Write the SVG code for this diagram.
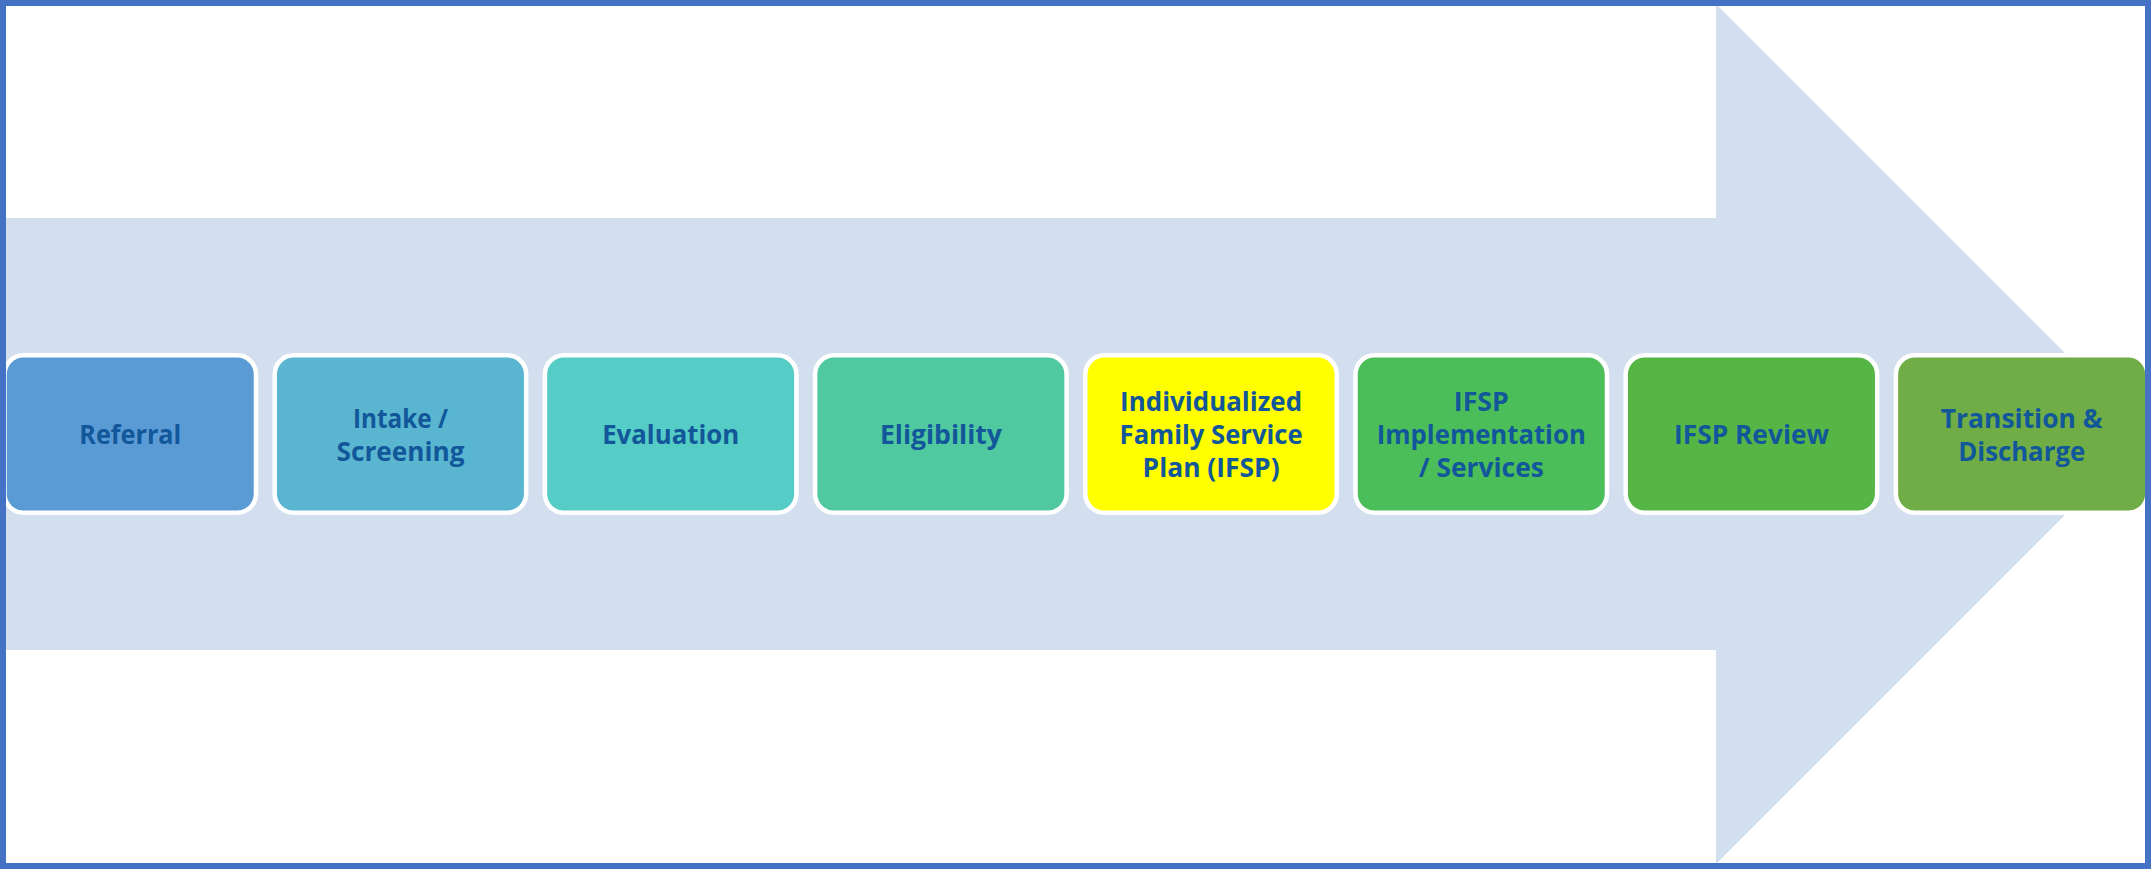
<svg xmlns="http://www.w3.org/2000/svg" width="2151" height="869" viewBox="0 0 2151 869">
<style>
.box{stroke:#FFFFFF;stroke-width:4.5}
.lbl{font-family:"Open Sans","Noto Sans","Liberation Sans",sans-serif;font-weight:bold;font-size:27px;fill:#11579A;text-anchor:middle}
</style>
<rect x="0" y="0" width="2151" height="869" fill="#FFFFFF"/>
<g id="arrow">
<polygon points="0,218 1716,218 1716,4 2146,434 1716,864 1716,650 0,650" fill="#D3DFEF"/>
</g>
<g id="connectors"></g>
<g id="n1"><rect class="box" x="4.5" y="355.3" width="251.5" height="157.5" rx="19" fill="#5B9BD5"/>
<text class="lbl" x="130.3" y="444" textLength="102" lengthAdjust="spacingAndGlyphs">Referral</text></g>
<g id="n2"><rect class="box" x="274.7" y="355.3" width="251.5" height="157.5" rx="19" fill="#5AB5D0"/>
<text class="lbl" x="400.5" y="427.5" textLength="95" lengthAdjust="spacingAndGlyphs">Intake /</text>
<text class="lbl" x="400.5" y="460.5" textLength="128" lengthAdjust="spacingAndGlyphs">Screening</text></g>
<g id="n3"><rect class="box" x="544.9" y="355.3" width="251.5" height="157.5" rx="19" fill="#55CCC5"/>
<text class="lbl" x="670.7" y="444" textLength="137" lengthAdjust="spacingAndGlyphs">Evaluation</text></g>
<g id="n4"><rect class="box" x="815.1" y="355.3" width="251.5" height="157.5" rx="19" fill="#50C8A0"/>
<text class="lbl" x="940.9" y="444" textLength="122" lengthAdjust="spacingAndGlyphs">Eligibility</text></g>
<g id="n5"><rect class="box" x="1085.3" y="355.3" width="251.5" height="157.5" rx="19" fill="#FFFF00"/>
<text class="lbl" x="1211.1" y="411" textLength="182" lengthAdjust="spacingAndGlyphs">Individualized</text>
<text class="lbl" x="1211.1" y="444" textLength="183" lengthAdjust="spacingAndGlyphs">Family Service</text>
<text class="lbl" x="1211.1" y="477" textLength="137" lengthAdjust="spacingAndGlyphs">Plan (IFSP)</text></g>
<g id="n6"><rect class="box" x="1355.5" y="355.3" width="251.5" height="157.5" rx="19" fill="#4BBE5A"/>
<text class="lbl" x="1481.3" y="411" textLength="55" lengthAdjust="spacingAndGlyphs">IFSP</text>
<text class="lbl" x="1481.3" y="444" textLength="209" lengthAdjust="spacingAndGlyphs">Implementation</text>
<text class="lbl" x="1481.3" y="477" textLength="125" lengthAdjust="spacingAndGlyphs">/ Services</text></g>
<g id="n7"><rect class="box" x="1625.7" y="355.3" width="251.5" height="157.5" rx="19" fill="#55B646"/>
<text class="lbl" x="1751.5" y="444" textLength="155" lengthAdjust="spacingAndGlyphs">IFSP Review</text></g>
<g id="n8"><rect class="box" x="1895.9" y="355.3" width="251.5" height="157.5" rx="19" fill="#70AD47"/>
<text class="lbl" x="2021.7" y="427.5" textLength="162" lengthAdjust="spacingAndGlyphs">Transition &amp;</text>
<text class="lbl" x="2021.7" y="460.5" textLength="127" lengthAdjust="spacingAndGlyphs">Discharge</text></g>
<rect x="3" y="3" width="2145" height="863" fill="none" stroke="#4472C4" stroke-width="6"/>
</svg>
